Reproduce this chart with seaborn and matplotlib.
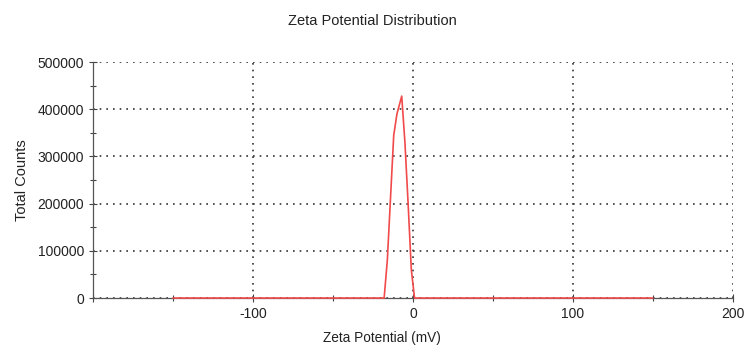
import matplotlib.pyplot as plt
import pandas as pd
import seaborn as sns
from matplotlib.ticker import MultipleLocator

sns.set_theme(style="white")
plt.rcParams["font.family"] = ["Liberation Sans", "DejaVu Sans"]
plt.rcParams["axes.unicode_minus"] = False

# zeta potential distribution
zeta_mv = [-150, -18, -16, -12, -10, -7, -5, -3, -1, 1, 150]
total_counts = [0, 0, 80000, 345000, 390000, 428000, 330000, 200000, 60000, 0, 0]

x_ticks = [-200, -100, 0, 100, 200]
x_tick_labels = ["", "-100", "0", "100", "200"]

df = pd.DataFrame({"Zeta Potential (mV)": zeta_mv, "Total Counts": total_counts})

fig = plt.figure(figsize=(7.44, 3.49), dpi=100)
ax = fig.add_axes([0.125, 0.146, 0.86, 0.676])
sns.lineplot(data=df, x="Zeta Potential (mV)", y="Total Counts", ax=ax,
             color="#f04a4a", linewidth=1.2, zorder=5, clip_on=False)

ax.set_xlim(-200, 200)
ax.set_ylim(0, 500000)
ax.set_xticks(x_ticks, x_tick_labels)
ax.xaxis.set_minor_locator(MultipleLocator(50))
ax.yaxis.set_major_locator(MultipleLocator(100000))
ax.yaxis.set_minor_locator(MultipleLocator(50000))
ax.grid(True, which="major", color="#333333", linestyle=(0, (1, 3)), linewidth=1.2)
ax.tick_params(which="both", direction="inout", color="#444444", labelsize=10,
               labelcolor="#222222", bottom=True, left=True)
ax.tick_params(which="major", length=6, width=0.8)
ax.tick_params(which="minor", length=4, width=0.8)
for s in ["top", "right"]:
    ax.spines[s].set_visible(False)
for s in ["left", "bottom"]:
    ax.spines[s].set_color("#555555")
    ax.spines[s].set_linewidth(0.9)

ax.set_xlabel("Zeta Potential (mV)", fontsize=9.8, color="#222222")
ax.xaxis.set_label_coords(0.452, -0.14)
ax.set_ylabel("Total Counts", fontsize=10.5, color="#222222", labelpad=6)
fig.text(0.5, 0.94, "Zeta Potential Distribution", ha="center", va="center",
         fontsize=10.5, color="#222222")

fig.savefig("out.png", dpi=100)
